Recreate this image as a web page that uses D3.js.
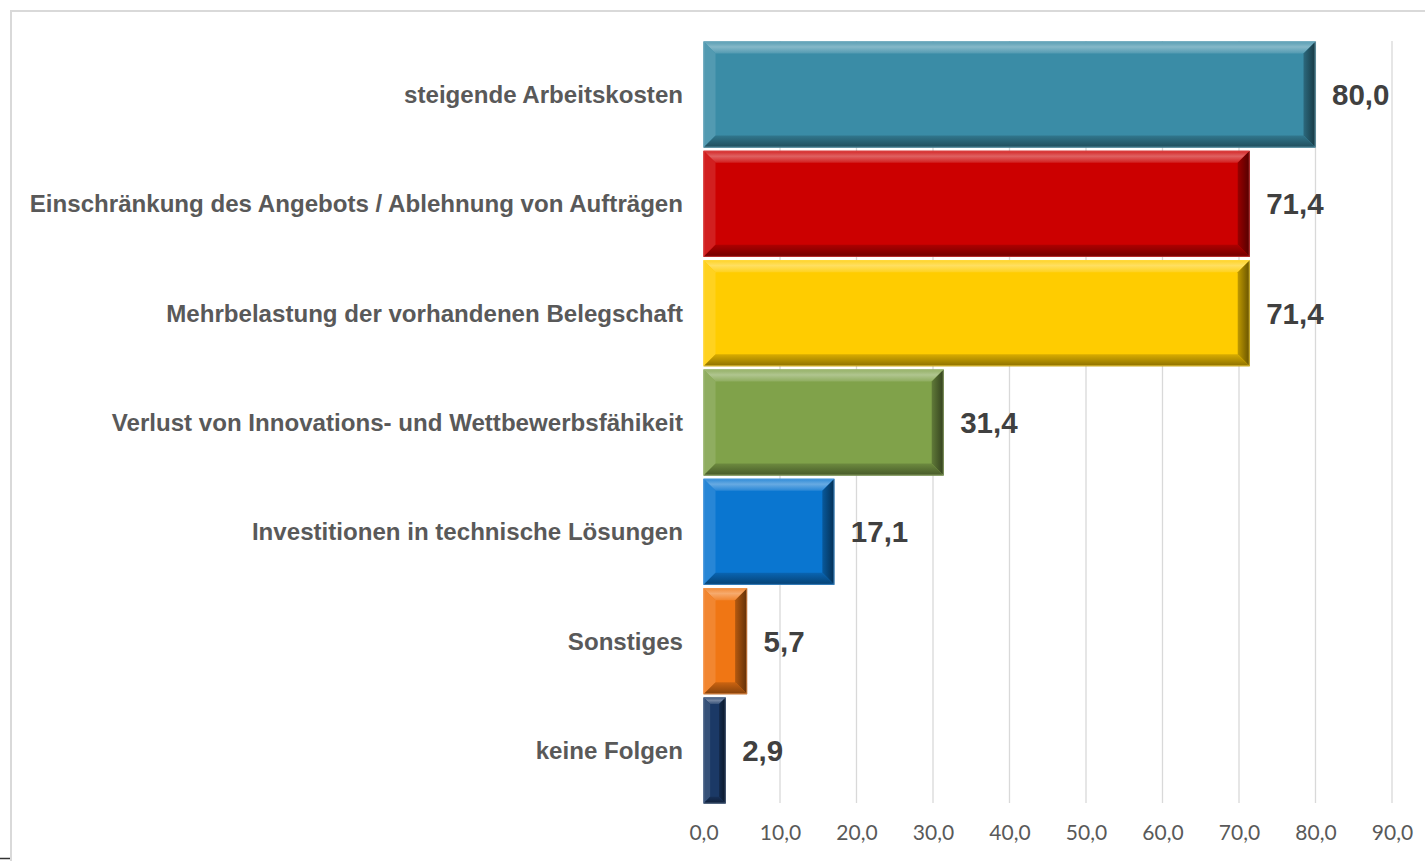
<!DOCTYPE html>
<html>
<head>
<meta charset="utf-8">
<script src="https://cdn.jsdelivr.net/npm/d3@7"></script>
<style>
  html, body { margin: 0; padding: 0; background: #ffffff; }
  svg { display: block; }
</style>
</head>
<body>
<svg id="chart" width="1425" height="861"></svg>
<script>
const categories = [
  "steigende Arbeitskosten",
  "Einschränkung des Angebots / Ablehnung von Aufträgen",
  "Mehrbelastung der vorhandenen Belegschaft",
  "Verlust von Innovations- und Wettbewerbsfähikeit",
  "Investitionen in technische Lösungen",
  "Sonstiges",
  "keine Folgen"
];
const values = [80.0, 71.4, 71.4, 31.4, 17.1, 5.7, 2.9];
const colors = ["#3a8ca6", "#cc0000", "#ffcc00", "#80a24a", "#0a76d0", "#f07614", "#1b3966"];
const tickValues = [0, 10, 20, 30, 40, 50, 60, 70, 80, 90];

const svg = d3.select("#chart");
const fmt = v => v.toFixed(1).replace(".", ",");

// chart border
svg.append("rect").attr("x", 11).attr("y", 11).attr("width", 1600).attr("height", 1000)
  .attr("fill", "none").attr("stroke", "#d9d9d9").attr("stroke-width", 2);
svg.append("line").attr("x1", 0).attr("x2", 10).attr("y1", 858.5).attr("y2", 858.5)
  .attr("stroke", "#333").attr("stroke-width", 1.5);

const x = d3.scaleLinear().domain([0, 90]).range([703.5, 1392]);
const y = d3.scaleBand().domain(categories).range([41.5, 803.5]).paddingInner(0.03).paddingOuter(0);

// gridlines
svg.append("g").selectAll("line").data(tickValues.filter(d => d > 0)).join("line")
  .attr("x1", d => x(d)).attr("x2", d => x(d))
  .attr("y1", 41).attr("y2", 803)
  .attr("stroke", "#d9d9d9").attr("stroke-width", 1.3);

// x axis tick labels
const axis = d3.axisBottom(x).tickValues(tickValues).tickFormat(fmt).tickSize(0).tickPadding(0);
const ag = svg.append("g").attr("transform", "translate(0,833)").call(axis);
ag.select(".domain").remove();
ag.selectAll("text").attr("font-family", "Lato, 'Open Sans', sans-serif").attr("font-size", 21)
  .attr("fill", "#595959").attr("dy", "0.35em");

// bars with bevel
const defs = svg.append("defs");
const mix = (c, t, k) => d3.interpolateRgb(c, t)(k);

const bars = svg.append("g");
categories.forEach((cat, i) => {
  const v = values[i];
  const c = colors[i];
  const x0 = x(0), x1 = x(v), y0 = y(cat), y1 = y(cat) + y.bandwidth();
  const w = x1 - x0, h = y1 - y0;
  const b = Math.min(12, w * 0.3, h * 0.12);
  const g = bars.append("g");

  const gid = "gt" + i;
  const lg = defs.append("linearGradient").attr("id", gid).attr("x1", 0).attr("y1", 0).attr("x2", 0).attr("y2", 1);
  lg.append("stop").attr("offset", "0%").attr("stop-color", mix(c, "#ffffff", 0.15));
  lg.append("stop").attr("offset", "45%").attr("stop-color", mix(c, "#ffffff", 0.38));
  lg.append("stop").attr("offset", "100%").attr("stop-color", mix(c, "#ffffff", 0.12));
  const bid = "gb" + i;
  const lb = defs.append("linearGradient").attr("id", bid).attr("x1", 0).attr("y1", 0).attr("x2", 0).attr("y2", 1);
  lb.append("stop").attr("offset", "0%").attr("stop-color", mix(c, "#000000", 0.15));
  lb.append("stop").attr("offset", "100%").attr("stop-color", mix(c, "#000000", 0.45));
  const rid = "gr" + i;
  const lr = defs.append("linearGradient").attr("id", rid).attr("x1", 0).attr("y1", 0).attr("x2", 1).attr("y2", 0);
  lr.append("stop").attr("offset", "0%").attr("stop-color", mix(c, "#000000", 0.25));
  lr.append("stop").attr("offset", "100%").attr("stop-color", mix(c, "#000000", 0.6));

  g.append("rect").attr("x", x0).attr("y", y0).attr("width", w).attr("height", h).attr("fill", c);
  const poly = pts => pts.map(p => p.join(",")).join(" ");
  g.append("polygon").attr("points", poly([[x0, y0], [x1, y0], [x1 - b, y0 + b], [x0 + b, y0 + b]]))
    .attr("fill", `url(#${gid})`);
  g.append("polygon").attr("points", poly([[x0, y0], [x0 + b, y0 + b], [x0 + b, y1 - b], [x0, y1]]))
    .attr("fill", mix(c, "#ffffff", 0.12));
  g.append("polygon").attr("points", poly([[x1, y0], [x1, y1], [x1 - b, y1 - b], [x1 - b, y0 + b]]))
    .attr("fill", `url(#${rid})`);
  g.append("polygon").attr("points", poly([[x0, y1], [x0 + b, y1 - b], [x1 - b, y1 - b], [x1, y1]]))
    .attr("fill", `url(#${bid})`);
  g.append("rect").attr("x", x0 + 0.5).attr("y", y0 + 0.5).attr("width", w - 1).attr("height", h - 1)
    .attr("fill", "none").attr("stroke", mix(c, "#ffffff", 0.3)).attr("stroke-width", 1).attr("opacity", 0.6);
});

// category labels
svg.append("g").selectAll("text").data(categories).join("text")
  .attr("x", 683).attr("y", d => y(d) + y.bandwidth() / 2)
  .attr("dy", "0.35em").attr("text-anchor", "end")
  .attr("font-family", "'Liberation Sans', Arial, sans-serif").attr("font-weight", "bold")
  .attr("font-size", 24.1).attr("fill", "#595959")
  .text(d => d);

// value labels
svg.append("g").selectAll("text").data(values).join("text")
  .attr("x", d => x(d) + 16.5).attr("y", (d, i) => y(categories[i]) + y.bandwidth() / 2)
  .attr("dy", "0.36em").attr("text-anchor", "start")
  .attr("font-family", "'Liberation Sans', Arial, sans-serif").attr("font-weight", "bold")
  .attr("font-size", 29.5).attr("fill", "#404040")
  .text(d => fmt(d));
</script>
</body>
</html>
